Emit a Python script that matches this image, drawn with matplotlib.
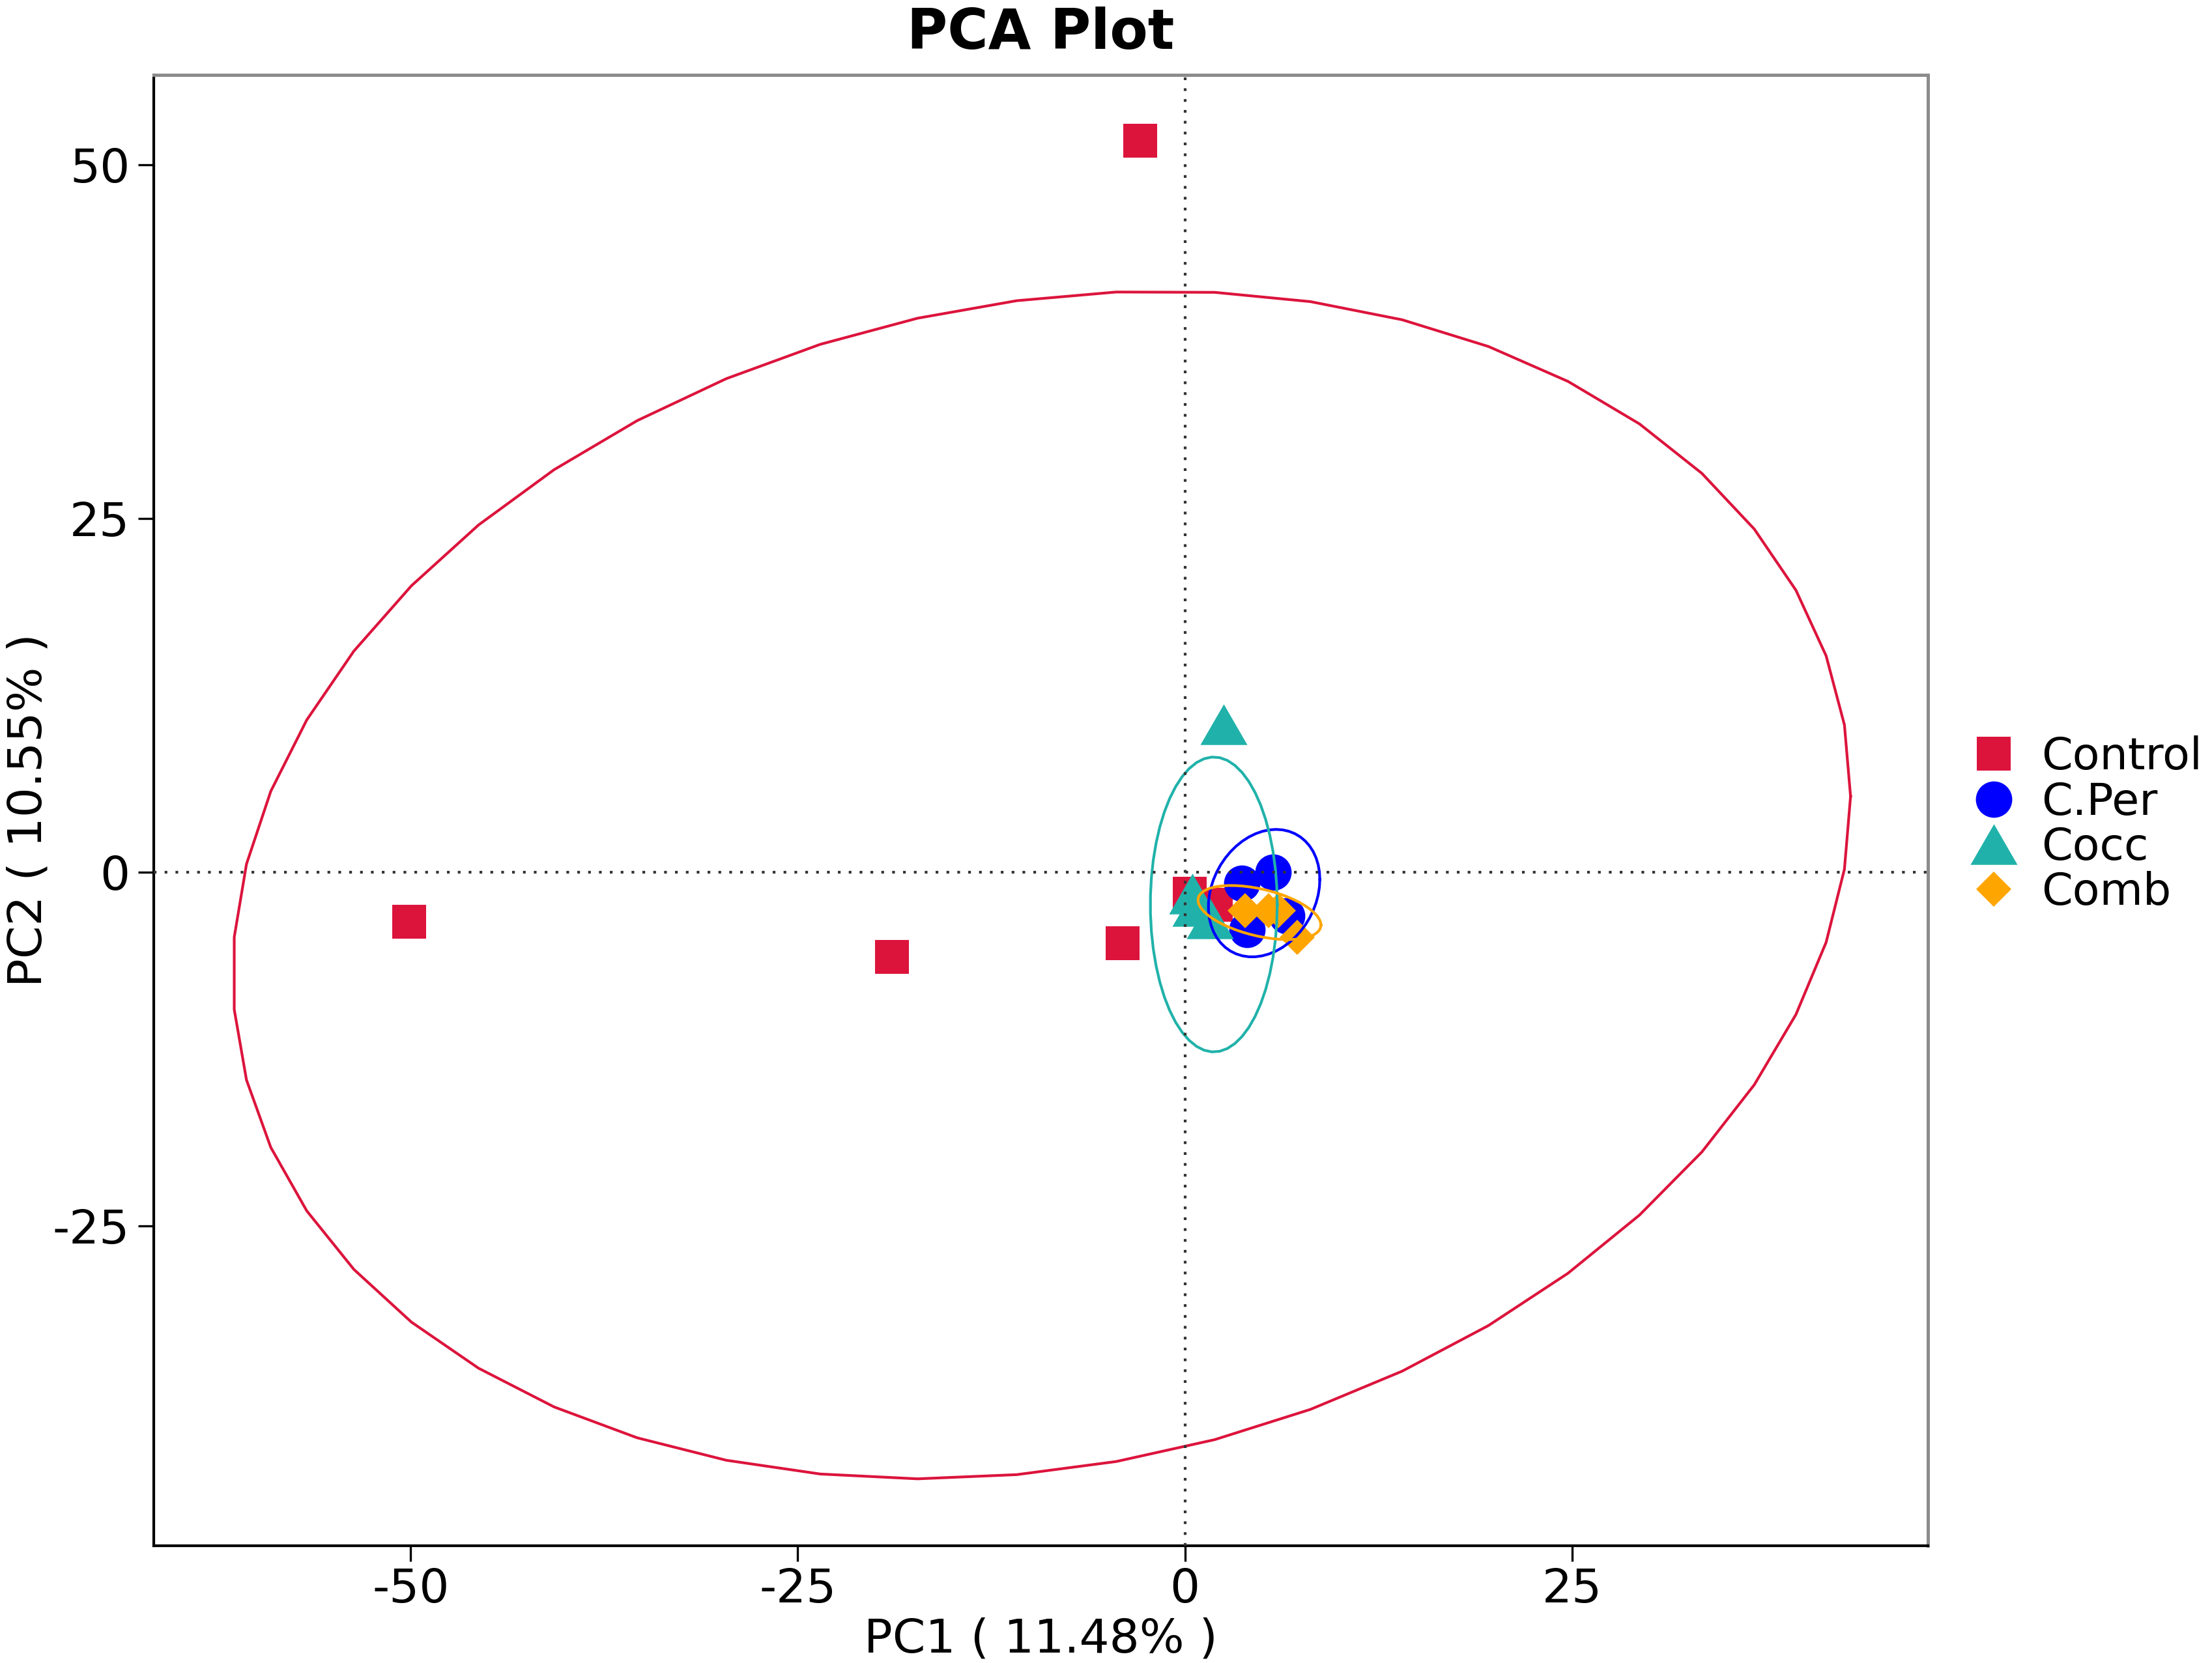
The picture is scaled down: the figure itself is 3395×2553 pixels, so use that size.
import numpy as np
import matplotlib.pyplot as plt
from matplotlib.lines import Line2D
from matplotlib.path import Path

plt.rcParams["axes.unicode_minus"] = False

# sample scores
control_x = [-2.9, -50.1, -18.9, -4.0, 0.3, 2.0]
control_y = [51.7, -3.5, -6.0, -5.0, -1.5, -2.3]
cper_x = [5.7, 3.7, 4.0, 6.6]
cper_y = [0.0, -0.8, -4.05, -3.1]
cocc_x = [2.5, 0.5, 0.7, 1.6]
cocc_y = [10.45, -1.5, -2.4, -3.25]
comb_x = [3.9, 5.4, 6.05, 7.25]
comb_y = [-2.7, -2.7, -2.7, -4.6]

groups = ["Control", "C.Per", "Cocc", "Comb"]
colors = ["#DC143C", "#0000FF", "#20B2AA", "#FFA500"]

# 95% ellipses: centre and shape matrix (sxx, sxy, syy)
ell_cx = [-9.25, 5.12, 1.87, 4.82]
ell_cy = [-0.90, -1.48, -2.28, -2.85]
ell_sxx = [2730.0, 12.96, 16.8, 15.76]
ell_sxy = [327.0, 3.49, 0.0, -3.5]
ell_syy = [1761.5, 20.3, 108.6, 3.65]

x_label = "PC1 ( 11.48% )"
y_label = "PC2 ( 10.55% )"
x_ticks = [-50, -25, 0, 25]
y_ticks = [-25, 0, 25, 50]

tri = Path([(-1, -0.866), (1, -0.866), (0, 0.866), (-1, -0.866)],
           [Path.MOVETO, Path.LINETO, Path.LINETO, Path.CLOSEPOLY])
markers = ["s", "o", tri, "D"]
msizes = [12.7, 13.4, 17.3, 9.3]

fig = plt.figure(figsize=(3395 / 300, 2553 / 300), dpi=300)
ax = fig.add_axes([0.0695, 0.0705, 0.8021, 0.8845])

data = [(control_x, control_y), (cper_x, cper_y), (cocc_x, cocc_y), (comb_x, comb_y)]
for (xs, ys), col, mk, ms in zip(data, colors, markers, msizes):
    ax.plot(xs, ys, linestyle="none", marker=mk, markersize=ms,
            color=col, markeredgewidth=0, zorder=2)

# ellipse polygons, 51 segments like stat_ellipse
t = np.linspace(0, 2 * np.pi, 52)
unit = np.column_stack([np.cos(t), np.sin(t)])
for i, col in enumerate(colors):
    shape = np.array([[ell_sxx[i], ell_sxy[i]], [ell_sxy[i], ell_syy[i]]])
    chol = np.linalg.cholesky(shape).T
    pts = unit @ chol
    ax.plot(ell_cx[i] + pts[:, 0], ell_cy[i] + pts[:, 1], color=col, lw=1.0, zorder=3)

ax.axvline(0, color="#333333", lw=1.0, linestyle=(0, (1, 3)), zorder=4)
ax.axhline(0, color="#333333", lw=1.0, linestyle=(0, (1, 3)), zorder=4)

ax.set_xlim(-66.6, 48.0)
ax.set_ylim(-47.6, 56.35)
ax.set_xticks(x_ticks)
ax.set_yticks(y_ticks)
ax.tick_params(length=5.8, width=0.8, color="black", labelsize=17.4, labelcolor="black")
ax.tick_params(axis="x", pad=2)
ax.tick_params(axis="y", pad=3)

for side in ["top", "right"]:
    ax.spines[side].set_color("#8c8c8c")
    ax.spines[side].set_linewidth(1.2)
for side in ["left", "bottom"]:
    ax.spines[side].set_color("black")
    ax.spines[side].set_linewidth(1.0)

ax.set_xlabel(x_label, fontsize=17.4, labelpad=2)
ax.set_ylabel(y_label, fontsize=17.4)
ax.yaxis.set_label_coords(-0.0577, 0.5)
ax.set_title("PCA Plot", fontsize=20.4, fontweight="bold", pad=9.6)

handles = [Line2D([], [], linestyle="none", marker=mk, markersize=ms, color=col,
                  markeredgewidth=0)
           for mk, ms, col in zip(markers, msizes, colors)]
fig.legend(handles, groups, loc="center left", bbox_to_anchor=(0.8912, 0.504),
           frameon=False, fontsize=16.4, handlelength=1.0, handletextpad=0.58,
           labelspacing=0.05, borderpad=0, borderaxespad=0)

fig.savefig("out.png", dpi=300)
